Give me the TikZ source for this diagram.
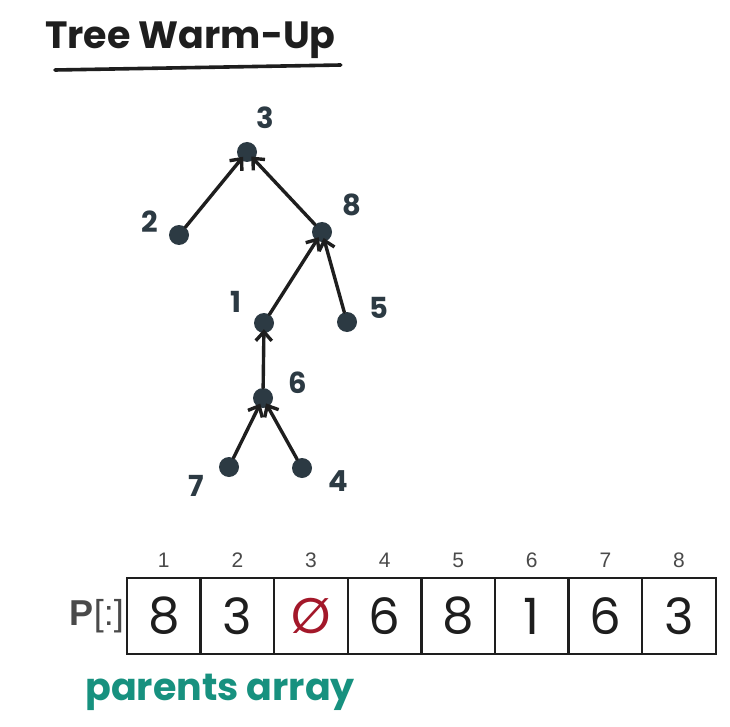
\documentclass[tikz,border=0pt]{standalone}
\usepackage{fontspec}
\setmainfont{Poppins}
\newfontfamily\idxfont{Liberation Sans}
\usetikzlibrary{positioning, arrows.meta, calc}
\usepackage{xcolor}
\definecolor{ink}{HTML}{1E1E1E}
\definecolor{dotink}{HTML}{2C3A43}
\definecolor{nullred}{HTML}{A3182A}
\definecolor{marker}{HTML}{17917F}
\definecolor{printgray}{HTML}{4A4A4A}

\begin{document}
\begin{tikzpicture}[
  x=1pt, y=-1pt, >={Straight Barb[length=9pt, width=16pt]},
  vertex/.style={circle, fill=dotink, minimum size=20pt, inner sep=0pt},
  edge/.style={->, line width=3.4pt, draw=ink, line cap=round, shorten >=-4pt},
  lbl/.style={font=\bfseries\fontsize{29}{29}\selectfont, text=dotink, inner sep=0pt},
  cell/.style={draw=ink, line width=2.4pt, minimum width=73.6pt, minimum height=76pt,
    inner sep=0pt, outer sep=0pt, font=\fontsize{50}{50}\selectfont, text=ink},
  idx/.style={font=\idxfont\fontsize{21}{21}\selectfont, text=printgray, label distance=7pt},
]
\useasboundingbox[fill=white] (0,0) rectangle (730,727);
% ---- title ----
\node[anchor=west, font=\bfseries\fontsize{38}{38}\selectfont, text=ink, inner sep=0pt] (title)
  at (45,40) {Tree Warm-Up};
\draw[line width=3.6pt, ink, line cap=round] ([shift={(10,30)}]title.west) -- ([shift={(5,25)}]title.east);
% ---- the tree ----
\node[vertex] (n3) at (247,152) {};
\node[vertex] (n2) at (179,235) {};
\node[vertex] (n8) at (322,232) {};
\node[vertex] (n1) at (264,323) {};
\node[vertex] (n5) at (347,322) {};
\node[vertex] (n6) at (263,398) {};
\node[vertex] (n7) at (229,467) {};
\node[vertex] (n4) at (302,468) {};
\node[lbl] (l3) at ($(n3)+(18,-34)$) {3};
\node[lbl] (l2) at ($(n2)+(-29,-13)$) {2};
\node[lbl] (l8) at ($(n8)+(30,-27)$) {8};
\node[lbl] (l1) at ($(n1)+(-28,-21)$) {1};
\node[lbl] (l5) at ($(n5)+(32,-14)$) {5};
\node[lbl] (l6) at ($(n6)+(35,-15)$) {6};
\node[lbl] (l7) at ($(n7)+(-33,19)$) {7};
\node[lbl] (l4) at ($(n4)+(36,13)$) {4};
% ---- edges: child points to parent ----
\draw[edge] (n2) -- (n3);
\draw[edge] (n8) -- (n3);
\draw[edge] (n1) -- (n8);
\draw[edge] (n5) -- (n8);
\draw[edge] (n6) -- (n1);
\draw[edge] (n7) -- (n6);
\draw[edge] (n4) -- (n6);
% ---- parents array ----
\node[cell, label={[idx]above:1}] (c1) at (163.8,616) {8};
\node[cell, label={[idx]above:2}, right=0pt of c1] (c2) {3};
\node[cell, label={[idx]above:3}, right=0pt of c2, text=nullred] (c3) {Ø};
\node[cell, label={[idx]above:4}, right=0pt of c3] (c4) {6};
\node[cell, label={[idx]above:5}, right=0pt of c4] (c5) {8};
\node[cell, label={[idx]above:6}, right=0pt of c5] (c6) {1};
\node[cell, label={[idx]above:7}, right=0pt of c6] (c7) {6};
\node[cell, label={[idx]above:8}, right=0pt of c7] (c8) {3};
\node[left=3pt of c1, font=\idxfont\fontsize{36}{36}\selectfont, text=printgray, inner sep=0pt]
  (plabel) {\textbf{P}[:]};
\node[anchor=north west, font=\bfseries\fontsize{38}{38}\selectfont, text=marker, inner sep=0pt]
  (note) at ([shift={(-42,20)}]c1.south west) {parents array};
\end{tikzpicture}
\end{document}
